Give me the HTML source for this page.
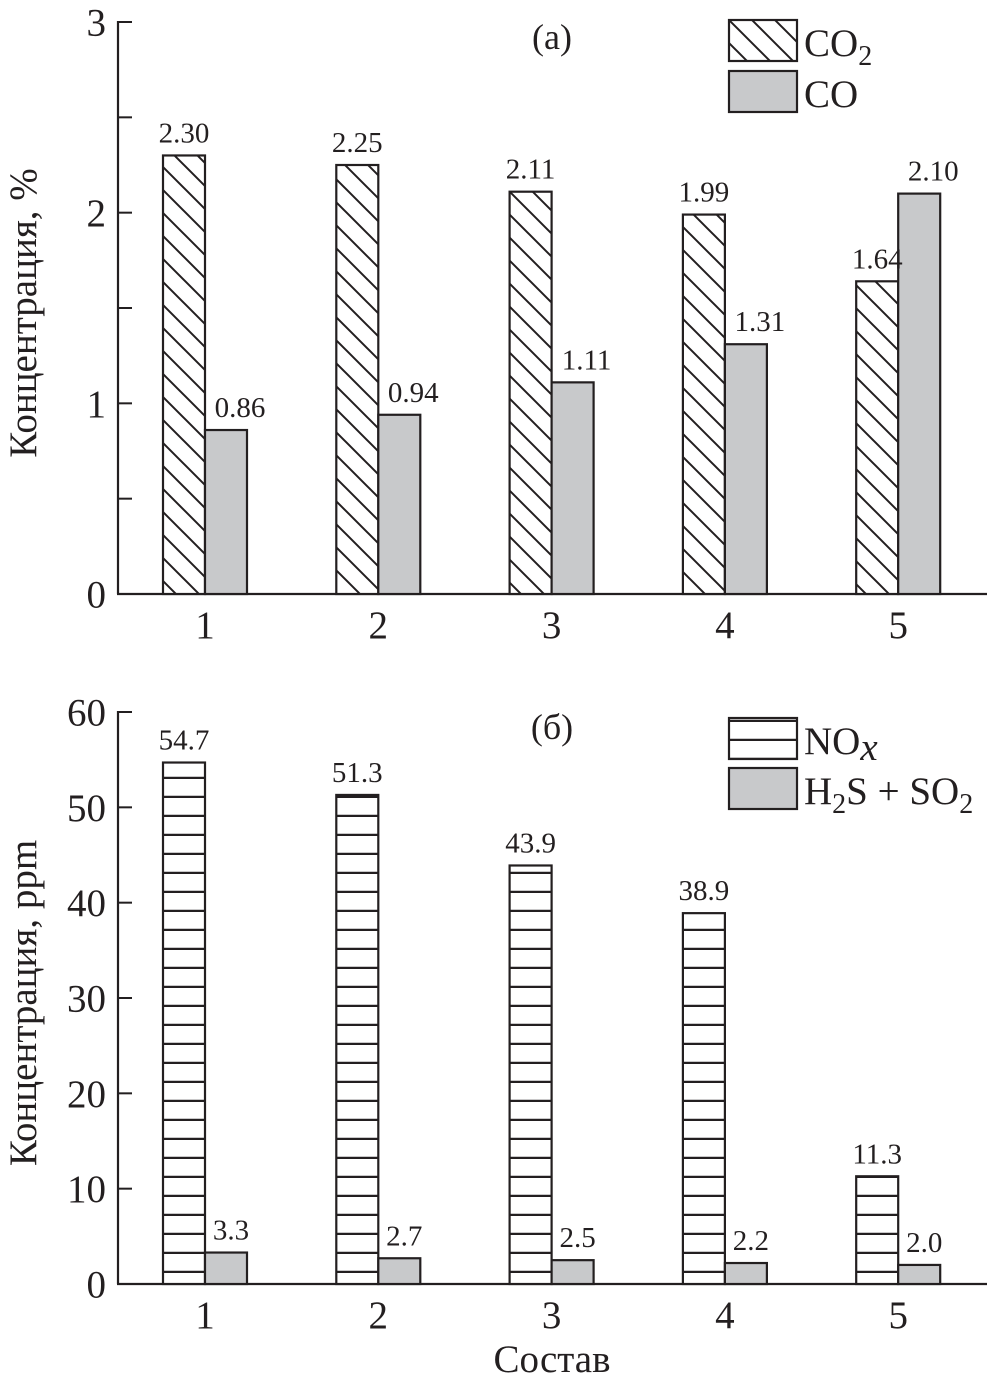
<!DOCTYPE html>
<html><head><meta charset="utf-8">
<style>
html,body{margin:0;padding:0;background:#fff;}
svg{display:block;font-family:"Liberation Serif",serif;}
</style></head>
<body>
<svg id="chart" width="999" height="1386" viewBox="0 0 999 1386" xmlns="http://www.w3.org/2000/svg">
<defs>
<pattern id="diag" patternUnits="userSpaceOnUse" width="23" height="23" patternTransform="translate(0,4)">
<rect width="23" height="23" fill="#fff"/>
<path d="M-2,-2 L25,25 M-25,-2 L2,25 M21,-2 L48,25" stroke="#231f20" stroke-width="2"/>
</pattern>
<pattern id="horiz" patternUnits="userSpaceOnUse" width="10" height="19" y="0">
<rect width="10" height="19" fill="#fff"/>
<line x1="0" y1="18" x2="10" y2="18" stroke="#231f20" stroke-width="2.5"/>
</pattern>
</defs>
<g id="topPanel"></g>
<g id="botPanel"></g>
</svg>
<script>
const categories = ["1","2","3","4","5"];
const co2Values = [2.30, 2.25, 2.11, 1.99, 1.64];
const coValues = [0.86, 0.94, 1.11, 1.31, 2.10];
const co2Labels = ["2.30","2.25","2.11","1.99","1.64"];
const coLabels = ["0.86","0.94","1.11","1.31","2.10"];
const topTicks = [0,1,2,3];
const noxValues = [54.7, 51.3, 43.9, 38.9, 11.3];
const h2sValues = [3.3, 2.7, 2.5, 2.2, 2.0];
const noxLabels = ["54.7","51.3","43.9","38.9","11.3"];
const h2sLabels = ["3.3","2.7","2.5","2.2","2.0"];
const botTicks = [0,10,20,30,40,50,60];

const NS="http://www.w3.org/2000/svg";
const INK="#231f20", GREY="#c8c9cb";
function mk(parent, tag, attrs, text){
  const e=document.createElementNS(NS,tag);
  for(const k in attrs) e.setAttribute(k,attrs[k]);
  if(text!==undefined) e.textContent=text;
  parent.appendChild(e); return e;
}
const xCenter = i => 205 + i*173.3;
const BW = 42;

function drawPanel(g, o){
  const y = v => o.y0 - (v - 0)/(o.max) * (o.y0 - o.yTop);
  let ax=mk(g,'line',{x1:118,y1:o.yTop-1,x2:118,y2:o.y0,stroke:INK,'stroke-width':2.2});
  
  
  let bx=mk(g,'line',{x1:117,y1:o.y0,x2:987,y2:o.y0,stroke:INK,'stroke-width':2.2});
  
  
  o.ticks.forEach((t,i)=>{
    const ty=y(t);
    let tl=mk(g,'line',{x1:118,y1:ty,x2:132,y2:ty,stroke:INK,'stroke-width':2});
    
    
    let lb=mk(g,'text',{x:106,y:ty+13.5,'text-anchor':'end','font-size':39,fill:INK},String(t));
    
    
    if(o.minor && i<o.ticks.length-1){
      const my=y((t+o.ticks[i+1])/2);
      let ml=mk(g,'line',{x1:118,y1:my,x2:132,y2:my,stroke:INK,'stroke-width':2});
      
      
    }
  });
  categories.forEach((c,i)=>{
    const cx=xCenter(i);
    const v1=o.s1[i], v2=o.s2[i];
    let b1=mk(g,'rect',{x:cx-BW,y:y(v1),width:BW,height:o.y0-y(v1),fill:o.fill1,stroke:INK,'stroke-width':2.2});
    
    
    let b2=mk(g,'rect',{x:cx,y:y(v2),width:BW,height:o.y0-y(v2),fill:GREY,stroke:INK,'stroke-width':2.2});
    
    
    let l1=mk(g,'text',{x:cx-BW/2,y:y(v1)-13,'text-anchor':'middle','font-size':29,fill:INK},o.l1[i]);
    
    
    let l2=mk(g,'text',{x:cx+BW/2+o.shift2,y:y(v2)-13,'text-anchor':'middle','font-size':29,fill:INK},o.l2[i]);
    
    
    let xl=mk(g,'text',{x:cx,y:o.y0+44,'text-anchor':'middle','font-size':39,fill:INK},c);
    
    
  });
  let yt=mk(g,'text',{x:0,y:0,'text-anchor':'middle','font-size':39,fill:INK,transform:`translate(36,${(o.yTop+o.y0)/2+5}) rotate(-90)`},o.ytitle);
  
  
  let pl=mk(g,'text',{x:552,y:o.yTop+27,'text-anchor':'middle','font-size':36,fill:INK},o.panel);
  
  
}

const topG=document.getElementById('topPanel');
drawPanel(topG,{y0:594,yTop:22,max:3,ticks:topTicks,s1:co2Values,s2:coValues,l1:co2Labels,l2:coLabels,minor:true,shift2:14,
  fill1:'url(#diag)',name1:'co2',name2:'co',ytitle:'Концентрация, %',panel:'(a)'});
const botG=document.getElementById('botPanel');
drawPanel(botG,{y0:1284,yTop:712,max:60,ticks:botTicks,s1:noxValues,s2:h2sValues,l1:noxLabels,l2:h2sLabels,minor:false,shift2:5,
  fill1:'url(#horiz)',name1:'nox',name2:'h2s-so2',ytitle:'Концентрация, ppm',panel:'(б)'});

function legend(g,y,fill,name,html){
  let r=mk(g,'rect',{x:729,y:y,width:68,height:41,fill:fill,stroke:INK,'stroke-width':2.2});
  
  
  let t=mk(g,'text',{x:804,y:y+36,'font-size':39,fill:INK});
  t.innerHTML=html;
  
  
}
legend(topG,20,'url(#diag)','co2','CO<tspan dy="9" font-size="28">2</tspan>');
legend(topG,71,GREY,'co','CO');
legend(botG,718,'url(#horiz)','nox','NO<tspan dy="6" font-style="italic">x</tspan>');
legend(botG,768,GREY,'h2s-so2','H<tspan dy="9" font-size="28">2</tspan><tspan dy="-9">S + SO</tspan><tspan dy="9" font-size="28">2</tspan>');

let xt=mk(botG,'text',{x:552,y:1372,'text-anchor':'middle','font-size':39,fill:INK},'Состав');


</script>
</body></html>
